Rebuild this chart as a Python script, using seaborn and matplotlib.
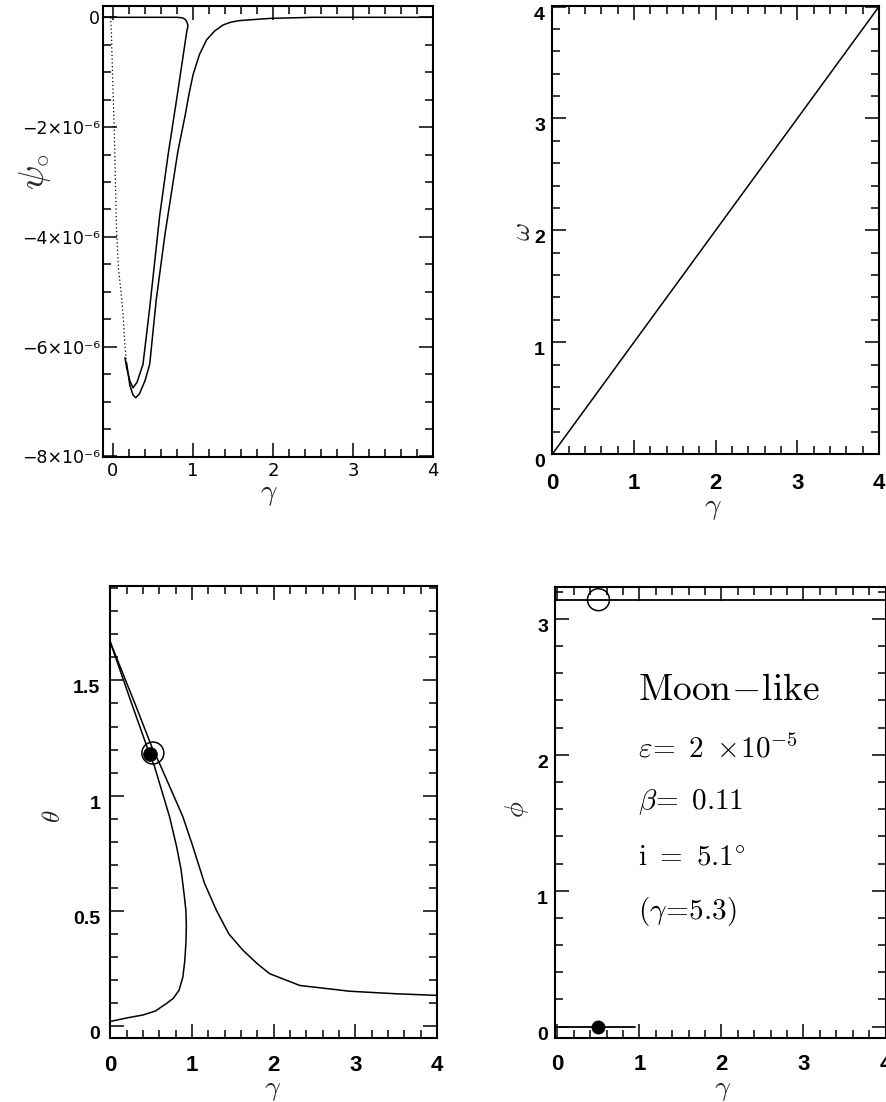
import numpy as np
import pandas as pd
import matplotlib
matplotlib.use("Agg")
import matplotlib.pyplot as plt
import seaborn as sns
from matplotlib.ticker import MultipleLocator

# ---------------- data ----------------
# panel (a): psi_o vs gamma
psi_inner_x = [-0.125, 0.80, 0.87, 0.905, 0.925, 0.937, 0.92, 0.88, 0.80, 0.689, 0.584, 0.459, 0.375, 0.30, 0.25, 0.21, 0.17, 0.15]
psi_inner_y = [0, 0, -0.01, -0.04, -0.09, -0.15, -0.28, -0.67, -1.45, -2.50, -3.61, -5.29, -6.32, -6.65, -6.75, -6.62, -6.38, -6.20]
psi_outer_x = [0.17, 0.21, 0.25, 0.284, 0.33, 0.40, 0.459, 0.54, 0.65, 0.81, 0.90, 0.95, 1.0, 1.08, 1.17, 1.27, 1.375, 1.47, 1.58, 1.96, 2.5, 4.0]
psi_outer_y = [-6.30, -6.70, -6.88, -6.93, -6.86, -6.62, -6.32, -5.15, -3.95, -2.45, -1.80, -1.40, -1.05, -0.68, -0.41, -0.25, -0.14, -0.09, -0.06, -0.02, 0, 0]
psi_dot_x = [-0.03, -0.02, 0.0, 0.02, 0.03, 0.045, 0.07, 0.10, 0.125, 0.15, 0.17]
psi_dot_y = [0, -0.3, -1.3, -2.3, -3.0, -3.9, -4.6, -5.0, -5.4, -6.0, -6.3]
psi_scale = 1e-6
psi_yticks = [0, -2e-6, -4e-6, -6e-6, -8e-6]
psi_yticklabels = ["0", "\u22122\u00d710\u207b\u2076", "\u22124\u00d710\u207b\u2076",
                   "\u22126\u00d710\u207b\u2076", "\u22128\u00d710\u207b\u2076"]

# panel (b): omega vs gamma
omega_x = [0, 1, 2, 3, 4]
omega_y = [0, 1, 2, 3, 4]

# panel (c): theta vs gamma
theta_a_x = [0.0, 0.3, 0.52, 0.6, 0.75, 0.887, 1.0, 1.153, 1.297, 1.45, 1.623, 1.8, 1.951, 2.32, 2.93, 3.5, 4.0]
theta_a_y = [1.665, 1.40, 1.20, 1.141, 1.02, 0.909, 0.79, 0.619, 0.503, 0.40, 0.329, 0.27, 0.227, 0.176, 0.151, 0.14, 0.133]
theta_b_x = [0.0, 0.25, 0.48, 0.54, 0.63, 0.724, 0.81, 0.865, 0.90, 0.925, 0.93, 0.925, 0.91, 0.887, 0.84, 0.77, 0.683, 0.55, 0.4, 0.2, 0.0]
theta_b_y = [1.665, 1.41, 1.18, 1.127, 1.02, 0.909, 0.78, 0.68, 0.58, 0.50, 0.43, 0.36, 0.28, 0.212, 0.155, 0.12, 0.097, 0.065, 0.048, 0.035, 0.02]
theta_open = (0.52, 1.185)
theta_fill = (0.48, 1.18)

# panel (d): phi vs gamma
phi_top_x = [-0.05, 4.0]
phi_top_y = [np.pi, np.pi]
phi_bot_x = [-0.05, 0.94]
phi_bot_y = [0.0, 0.0]
phi_open = (0.5, np.pi)
phi_fill = (0.5, 0.0)

info_lines = [r"$\mathrm{Moon}\!-\!\mathrm{like}$",
              r"$\varepsilon\!=\ 2\ \times\!10^{-5}$",
              r"$\beta\!=\ 0.11$",
              r"$\mathrm{i}\ =\ 5.1^{\circ}$",
              r"$(\gamma\!=\!5.3)$"]

# ---------------- style ----------------
sns.set_theme(style="ticks")
plt.rcParams["font.family"] = ["Liberation Sans", "DejaVu Sans"]
plt.rcParams["mathtext.fontset"] = "cm"
plt.rcParams["axes.linewidth"] = 1.5
plt.rcParams["axes.edgecolor"] = "black"

W, H = 886, 1102
fig = plt.figure(figsize=(W / 100, H / 100), dpi=100)
fig.patch.set_facecolor("white")


def add_ax(l, r, t, b):
    return fig.add_axes([l / W, 1 - b / H, (r - l) / W, (b - t) / H])


ax1 = add_ax(103, 433, 6, 457)
ax2 = add_ax(552, 879, 6, 454)
ax3 = add_ax(110, 437, 586, 1038)
ax4 = add_ax(555, 885.5, 587, 1037.5)


def base(ax, xlim, ylim, yminor, xsize, ysize, padx, pady, weight, family):
    ax.set_xlim(xlim)
    ax.set_ylim(ylim)
    ax.xaxis.set_major_locator(MultipleLocator(1))
    ax.xaxis.set_minor_locator(MultipleLocator(0.2))
    ax.yaxis.set_minor_locator(MultipleLocator(yminor))
    ax.tick_params(which="both", direction="in", top=True, right=True,
                   width=1.1, color="black")
    ax.tick_params(which="major", length=10)
    ax.tick_params(which="minor", length=6)
    ax.tick_params(axis="x", which="major", pad=padx, labelsize=xsize)
    ax.tick_params(axis="y", which="major", pad=pady, labelsize=ysize)
    for lab in ax.get_xticklabels() + ax.get_yticklabels():
        lab.set_fontweight(weight)
        lab.set_family(family)
        lab.set_color("black")
    for s in ax.spines.values():
        s.set_linewidth(1.5)
        s.set_color("black")
    ax.set_facecolor("white")


lw = 1.1

# ---- panel (a)
sns.lineplot(x=np.array(psi_inner_x), y=np.array(psi_inner_y) * psi_scale, sort=False,
             estimator=None, color="black", lw=lw, ax=ax1)
sns.lineplot(x=np.array(psi_outer_x), y=np.array(psi_outer_y) * psi_scale, sort=False,
             estimator=None, color="black", lw=lw, ax=ax1)
sns.lineplot(x=np.array(psi_dot_x), y=np.array(psi_dot_y) * psi_scale, sort=False,
             estimator=None, color="black", lw=0.9, linestyle=(0, (1, 2)), ax=ax1)
ax1.set_yticks(psi_yticks, psi_yticklabels)
base(ax1, (-0.125, 4.0), (-8.01e-6, 0.206e-6), 0.5e-6, 13, 12.5, 3.5, 2,
     "normal", ["DejaVu Sans"])
ax1.set_xlabel(r"$\gamma$", fontsize=21, va="center")
ax1.set_ylabel(r"$\psi_{\circ}$", fontsize=26, va="center")
ax1.xaxis.set_label_coords(0.503, -0.082)
ax1.yaxis.set_label_coords(-0.206, 0.632)

# ---- panel (b)
sns.lineplot(x=omega_x, y=omega_y, sort=False, estimator=None, color="black", lw=lw, ax=ax2)
ax2.set_yticks([0, 1, 2, 3, 4], ["0", "1", "2", "3", "4"])
base(ax2, (-0.005, 4.0), (0, 4.005), 0.2, 16, 14, 14, 5, "bold", ["Liberation Sans"])
for lab in ax2.get_yticklabels():
    lab.set_verticalalignment("top")
ax2.set_xlabel(r"$\gamma$", fontsize=21, va="center")
ax2.set_ylabel(r"$\omega$", fontsize=20, va="center")
ax2.xaxis.set_label_coords(0.492, -0.12)
ax2.yaxis.set_label_coords(-0.089, 0.4955)

# ---- panel (c)
sns.lineplot(x=theta_a_x, y=theta_a_y, sort=False, estimator=None, color="black", lw=lw, ax=ax3)
sns.lineplot(x=theta_b_x, y=theta_b_y, sort=False, estimator=None, color="black", lw=lw, ax=ax3)
sns.scatterplot(x=[theta_open[0]], y=[theta_open[1]], s=250, color="black",
                facecolors="none", edgecolor="black", linewidth=1.1, ax=ax3, zorder=5)
sns.scatterplot(x=[theta_fill[0]], y=[theta_fill[1]], s=100, color="black",
                edgecolor="black", linewidth=0.5, ax=ax3, zorder=6)
ax3.set_yticks([0, 0.5, 1, 1.5], ["0", "0.5", "1", "1.5"])
base(ax3, (-0.005, 4.0), (-0.052, 1.91), 0.1, 16, 14, 12, 7, "bold", ["Liberation Sans"])
for lab in ax3.get_yticklabels():
    lab.set_verticalalignment("top")
ax3.set_xlabel(r"$\gamma$", fontsize=20, va="center")
ax3.set_ylabel(r"$\theta$", fontsize=18, va="center")
ax3.xaxis.set_label_coords(0.498, -0.116)
ax3.yaxis.set_label_coords(-0.174, 0.491)

# ---- panel (d)
sns.lineplot(x=phi_top_x, y=phi_top_y, sort=False, estimator=None, color="black", lw=1.3, ax=ax4)
sns.lineplot(x=phi_bot_x, y=phi_bot_y, sort=False, estimator=None, color="black", lw=1.3, ax=ax4)
sns.scatterplot(x=[phi_open[0]], y=[phi_open[1]], s=250, color="black",
                facecolors="none", edgecolor="black", linewidth=1.1, ax=ax4, zorder=5)
sns.scatterplot(x=[phi_fill[0]], y=[phi_fill[1]], s=90, color="black",
                edgecolor="black", linewidth=0.5, ax=ax4, zorder=6)
ax4.set_yticks([0, 1, 2, 3], ["0", "1", "2", "3"])
base(ax4, (-0.03, 4.0), (-0.08, 3.235), 0.2, 16, 14, 12, 5, "bold", ["Liberation Sans"])
for lab in ax4.get_yticklabels():
    lab.set_verticalalignment("top")
ax4.set_xlabel(r"$\gamma$", fontsize=20, va="center")
ax4.set_ylabel(r"$\phi$", fontsize=19, va="center")
ax4.xaxis.set_label_coords(0.508, -0.116)
ax4.yaxis.set_label_coords(-0.115, 0.507)

info_y = [0.772, 0.641, 0.522, 0.399, 0.280]
info_size = [27, 21, 21, 21, 21]
for txt, yy, fs in zip(info_lines, info_y, info_size):
    ax4.text(0.252, yy, txt, transform=ax4.transAxes, fontsize=fs,
             ha="left", va="center", color="black")

for ax in (ax1, ax2, ax3, ax4):
    leg = ax.get_legend()
    if leg is not None:
        leg.remove()

fig.savefig("out.png", dpi=100, facecolor="white")
